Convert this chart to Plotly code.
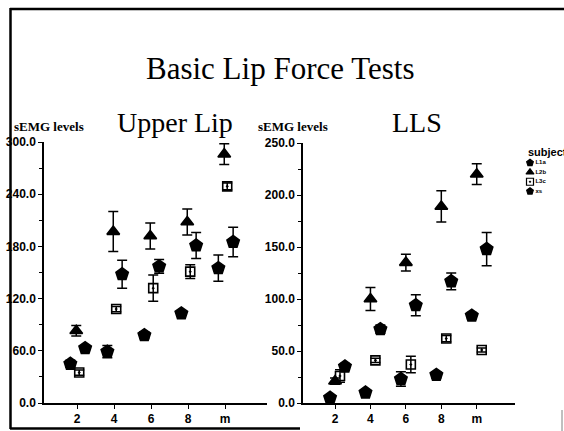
import plotly.graph_objects as go

# =============================
# Data
# =============================
groups = ["2", "4", "6", "8", "m"]
subjects = ["L1a", "L2b", "L3c", "xs"]

# Upper Lip - means and error bar half-lengths
upper_l1a = [45, 59, 78, 103, 155]
upper_l1a_err = [4, 7, 4, 2, 15]
upper_l2b = [83, 197, 192, 208, 286]
upper_l2b_err = [6, 23, 15, 15, 12]
upper_l3c = [35, 108, 132, 151, 249]
upper_l3c_err = [3, 3, 15, 8, 4]
upper_xs = [63, 148, 157, 181, 185]
upper_xs_err = [2, 16, 8, 15, 17]

# LLS - means and error bar half-lengths
lls_l1a = [5, 10, 23, 27, 84]
lls_l1a_err = [1, 1, 7, 3, 3]
lls_l2b = [21, 100, 135, 189, 220]
lls_l2b_err = [3, 11, 8, 15, 10]
lls_l3c = [26, 41, 37, 62, 51]
lls_l3c_err = [6, 2, 8, 3, 2]
lls_xs = [35, 71, 94, 117, 148]
lls_xs_err = [3, 4, 10, 8, 16]

W, H = 564, 431


def px(x):
    return x / W


def py(y):
    return 1 - y / H


symbols = {"L1a": "pentagon", "L2b": "triangle-up", "L3c": "square-open-dot", "xs": "pentagon"}
sizes = {"L1a": 13, "L2b": 11, "L3c": 9, "xs": 13}

panels = [
    ("x", "y", {"L1a": -0.18, "L2b": -0.02, "L3c": 0.06, "xs": 0.22},
     {"L1a": (upper_l1a, upper_l1a_err), "L2b": (upper_l2b, upper_l2b_err),
      "L3c": (upper_l3c, upper_l3c_err), "xs": (upper_xs, upper_xs_err)}),
    ("x2", "y2", {"L1a": -0.14, "L2b": 0.0, "L3c": 0.14, "xs": 0.28},
     {"L1a": (lls_l1a, lls_l1a_err), "L2b": (lls_l2b, lls_l2b_err),
      "L3c": (lls_l3c, lls_l3c_err), "xs": (lls_xs, lls_xs_err)}),
]

fig = go.Figure()

for xa, ya, dodge, series in panels:
    for s in subjects:
        vals, errs = series[s]
        fig.add_trace(go.Scatter(
            x=[i + 1 + dodge[s] for i in range(len(groups))],
            y=vals,
            mode="markers",
            xaxis=xa, yaxis=ya,
            marker=dict(symbol=symbols[s], size=sizes[s], color="black",
                        line=dict(color="black", width=1.6)),
            error_y=dict(type="data", array=errs, color="black", thickness=1.5, width=5),
            showlegend=False,
        ))

# hand-made legend (plotly's legend rows are too tall for this)
fig.add_trace(go.Scatter(
    x=[0.2] * len(subjects),
    y=list(range(len(subjects) - 1, -1, -1)),
    mode="markers+text",
    text=subjects,
    textposition="middle right",
    textfont=dict(family="Liberation Sans", size=6, color="black", weight="bold"),
    marker=dict(symbol=[symbols[s] for s in subjects], size=7, color="black",
                line=dict(color="black", width=1.2)),
    xaxis="x3", yaxis="y3", showlegend=False, cliponaxis=False,
))

tick_font = dict(family="Liberation Sans", size=12, color="black", weight="bold")
axis_common = dict(showline=True, linecolor="black", linewidth=1.5, showgrid=False,
                   zeroline=False, ticks="outside", tickcolor="black", tickwidth=1.2,
                   ticklen=4, tickfont=tick_font)

fig.update_layout(
    width=W, height=H,
    margin=dict(l=0, r=0, t=0, b=0, pad=0, autoexpand=False),
    paper_bgcolor="white", plot_bgcolor="white",
    xaxis=dict(domain=[px(44), px(267)], range=[0.108, 6.135], tickvals=[1, 2, 3, 4, 5],
               ticktext=groups, anchor="y", **axis_common),
    yaxis=dict(domain=[py(403), py(142)], range=[0, 300], dtick=60, tickformat=".1f",
               minor=dict(dtick=30, ticks="outside", ticklen=3, tickcolor="black"),
               anchor="x", **axis_common),
    xaxis2=dict(domain=[px(303), px(515)], range=[0.096, 6.08], tickvals=[1, 2, 3, 4, 5],
                ticktext=groups, anchor="y2", **axis_common),
    yaxis2=dict(domain=[py(403), py(143)], range=[0, 250], dtick=50, tickformat=".1f",
                minor=dict(dtick=25, ticks="outside", ticklen=3, tickcolor="black"),
                anchor="x2", **axis_common),
    xaxis3=dict(domain=[px(526), px(546)], range=[0, 1], visible=False, anchor="y3"),
    yaxis3=dict(domain=[py(196), py(158)], range=[-0.5, 3.5], visible=False, anchor="x3"),
)

serif = "Liberation Serif"


def label(x, y, text, font, xanchor="center"):
    fig.add_annotation(x=px(x), y=py(y), xref="paper", yref="paper", text=text,
                       xanchor=xanchor, yanchor="middle", showarrow=False, font=font)


label(280, 68, "Basic Lip Force Tests", dict(family=serif, size=31, color="black"))
label(175, 122, "Upper Lip", dict(family=serif, size=28, color="black"))
label(417, 122, "LLS", dict(family=serif, size=28, color="black"))
label(12, 126, "sEMG levels", dict(family=serif, size=13, color="black", weight="bold"), "left")
label(256, 126, "sEMG levels", dict(family=serif, size=13, color="black", weight="bold"), "left")
label(526, 152, "subject", dict(family="Liberation Sans", size=11, color="black", weight="bold"), "left")

# scanned page frame
frame = dict(color="black", width=2.5)
fig.add_shape(type="line", xref="paper", yref="paper", x0=px(10), x1=1, y0=py(9), y1=py(9), line=frame)
fig.add_shape(type="line", xref="paper", yref="paper", x0=px(10.5), x1=px(10.5), y0=py(8), y1=py(429), line=frame)
fig.add_shape(type="line", xref="paper", yref="paper", x0=px(10), x1=px(300), y0=py(428.5), y1=py(428.5), line=frame)
fig.add_shape(type="line", xref="paper", yref="paper", x0=px(562), x1=px(562), y0=py(410), y1=0,
              line=dict(color="gray", width=1))

fig.write_html("out.html", config={"displayModeBar": False},
               post_script="document.body.style.margin='0';")
